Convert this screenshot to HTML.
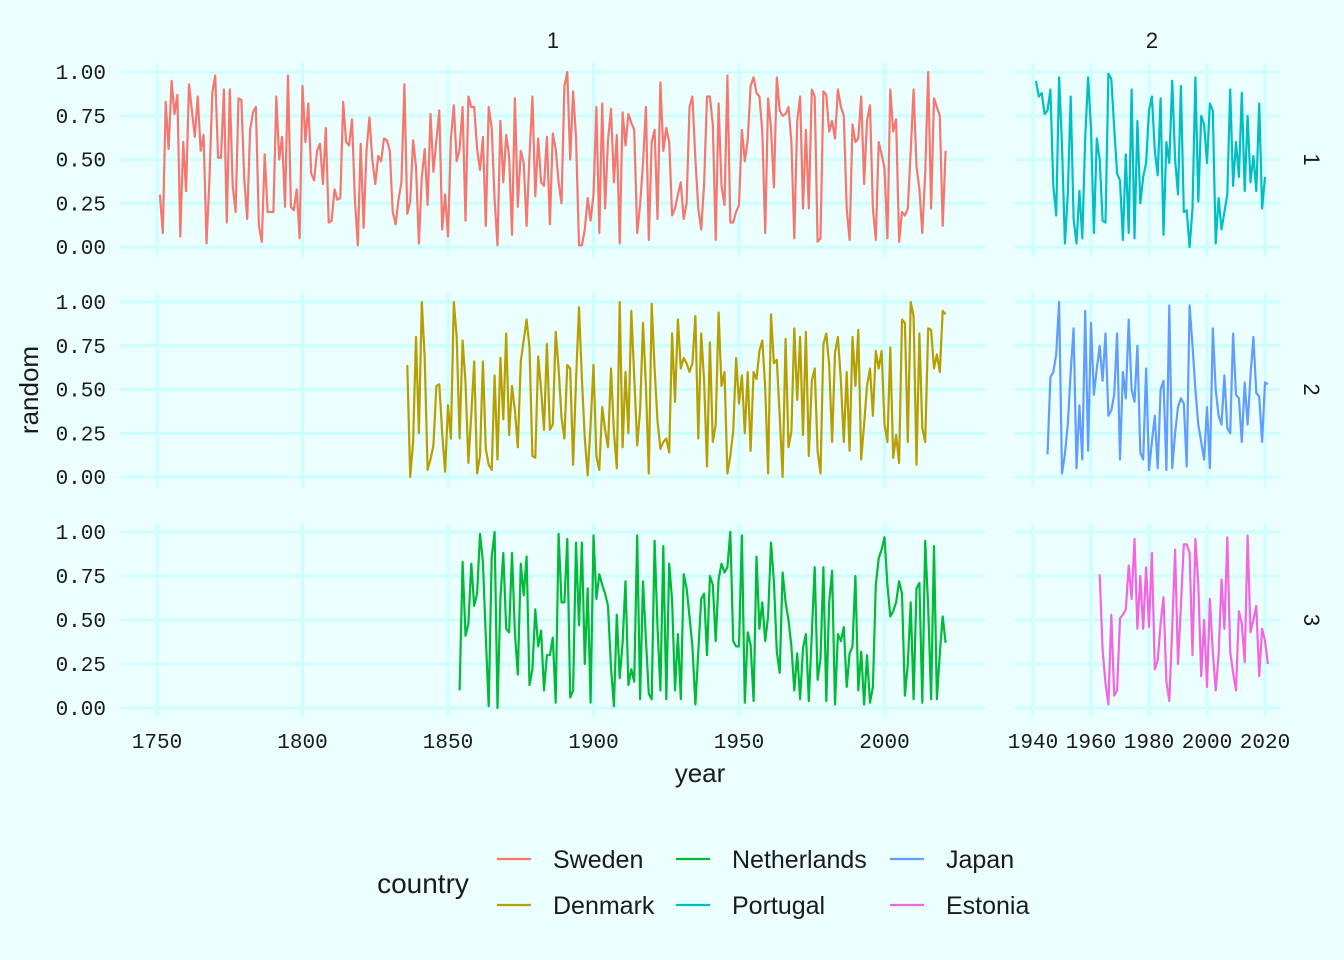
<!DOCTYPE html>
<html><head><meta charset="utf-8"><style>
body{margin:0;background:#ebffff;}
svg{display:block;font-family:"Liberation Sans",sans-serif;}
.tk{font-family:"Liberation Mono",monospace;font-size:21px;fill:#1a1a1a;}
</style></head><body>
<svg id="c" width="1344" height="960"></svg>
<script>
const sweden=[0.3,0.08,0.83,0.56,0.95,0.76,0.87,0.06,0.6,0.32,0.93,0.78,0.63,0.86,0.55,0.64,0.02,0.38,0.88,0.98,0.51,0.51,0.9,0.14,0.9,0.35,0.2,0.85,0.84,0.38,0.16,0.67,0.77,0.8,0.12,0.03,0.53,0.2,0.2,0.2,0.86,0.5,0.63,0.23,0.98,0.23,0.21,0.33,0.05,0.92,0.6,0.82,0.42,0.38,0.55,0.59,0.36,0.68,0.14,0.15,0.33,0.27,0.28,0.83,0.6,0.58,0.73,0.27,0.01,0.59,0.11,0.55,0.74,0.5,0.36,0.52,0.49,0.62,0.61,0.55,0.2,0.13,0.27,0.37,0.93,0.19,0.26,0.61,0.46,0.02,0.4,0.56,0.24,0.76,0.43,0.61,0.78,0.1,0.3,0.06,0.62,0.81,0.49,0.56,0.8,0.15,0.86,0.8,0.8,0.56,0.44,0.63,0.12,0.8,0.68,0.27,0.01,0.72,0.37,0.64,0.52,0.07,0.85,0.23,0.55,0.48,0.12,0.52,0.86,0.29,0.62,0.37,0.35,0.63,0.13,0.65,0.56,0.37,0.25,0.92,1.0,0.5,0.89,0.63,0.01,0.01,0.1,0.28,0.15,0.3,0.8,0.08,0.82,0.22,0.61,0.79,0.37,0.64,0.02,0.77,0.58,0.76,0.71,0.67,0.08,0.24,0.48,0.8,0.04,0.6,0.67,0.16,0.94,0.55,0.68,0.6,0.18,0.22,0.3,0.37,0.16,0.25,0.8,0.86,0.5,0.22,0.1,0.36,0.86,0.86,0.7,0.04,0.82,0.35,0.24,0.98,0.14,0.14,0.2,0.24,0.67,0.49,0.61,0.92,0.97,0.88,0.86,0.66,0.08,0.85,0.68,0.34,0.97,0.78,0.75,0.76,0.8,0.6,0.05,0.72,0.86,0.22,0.67,0.22,0.9,0.86,0.03,0.05,0.89,0.87,0.66,0.72,0.62,0.9,0.8,0.75,0.22,0.04,0.7,0.6,0.62,0.86,0.36,0.72,0.81,0.22,0.04,0.6,0.53,0.45,0.05,0.9,0.66,0.73,0.03,0.2,0.18,0.22,0.55,0.9,0.46,0.33,0.08,0.42,1.0,0.22,0.85,0.8,0.75,0.12,0.55,0.72,0.62,0.33,0.6,0.75];
const denmark=[0.64,0.0,0.2,0.8,0.25,1.0,0.68,0.04,0.1,0.18,0.52,0.53,0.25,0.03,0.41,0.22,1.0,0.8,0.22,0.78,0.54,0.08,0.36,0.66,0.02,0.12,0.66,0.16,0.07,0.04,0.58,0.1,0.68,0.33,0.82,0.24,0.52,0.38,0.17,0.66,0.78,0.9,0.74,0.12,0.11,0.69,0.5,0.27,0.76,0.27,0.3,0.83,0.62,0.34,0.22,0.64,0.62,0.07,0.55,0.97,0.56,0.22,0.01,0.3,0.64,0.12,0.04,0.4,0.27,0.17,0.62,0.26,0.05,1.0,0.17,0.6,0.25,0.95,0.58,0.18,0.38,0.88,0.52,0.02,0.99,0.62,0.32,0.16,0.2,0.22,0.14,0.82,0.43,0.9,0.62,0.68,0.65,0.6,0.65,0.92,0.22,0.82,0.55,0.06,0.77,0.2,0.3,0.94,0.52,0.6,0.02,0.12,0.26,0.68,0.42,0.58,0.25,0.6,0.15,0.6,0.56,0.72,0.78,0.51,0.02,0.93,0.65,0.67,0.35,0.0,0.79,0.17,0.26,0.85,0.44,0.8,0.24,0.83,0.12,0.55,0.62,0.15,0.02,0.76,0.82,0.64,0.2,0.71,0.8,0.55,0.2,0.6,0.15,0.8,0.52,0.84,0.1,0.3,0.52,0.62,0.35,0.72,0.62,0.72,0.3,0.2,0.74,0.11,0.24,0.08,0.9,0.88,0.2,1.0,0.92,0.07,0.82,0.28,0.2,0.85,0.84,0.62,0.7,0.6,0.95,0.93,0.6,0.82,0.97,0.2,0.33];
const netherlands=[0.1,0.83,0.41,0.48,0.82,0.58,0.65,0.99,0.83,0.4,0.01,0.86,1.0,0.0,0.62,0.88,0.45,0.43,0.88,0.43,0.19,0.82,0.64,0.86,0.13,0.22,0.56,0.35,0.44,0.1,0.3,0.3,0.4,0.03,0.99,0.6,0.6,0.96,0.06,0.1,0.94,0.47,0.94,0.25,0.68,0.03,0.98,0.62,0.76,0.7,0.65,0.58,0.23,0.01,0.53,0.17,0.37,0.72,0.13,0.22,0.15,0.98,0.05,0.72,0.39,0.08,0.05,0.95,0.46,0.1,0.92,0.05,0.82,0.61,0.1,0.42,0.05,0.76,0.68,0.52,0.35,0.02,0.32,0.62,0.65,0.3,0.75,0.7,0.38,0.73,0.82,0.77,0.8,1.0,0.38,0.35,0.35,0.98,0.03,0.43,0.36,0.04,0.86,0.45,0.6,0.38,0.52,0.94,0.72,0.32,0.2,0.77,0.6,0.5,0.35,0.1,0.31,0.05,0.34,0.42,0.04,0.42,0.8,0.16,0.28,0.8,0.04,0.6,0.78,0.02,0.42,0.38,0.46,0.12,0.31,0.35,0.75,0.1,0.32,0.02,0.3,0.03,0.12,0.7,0.85,0.9,0.97,0.7,0.52,0.55,0.6,0.72,0.65,0.07,0.25,0.6,0.05,0.68,0.71,0.03,0.95,0.57,0.05,0.92,0.05,0.31,0.52,0.37,0.1,0.86,0.05,0.95,0.24,0.47,0.94];
const portugal=[0.95,0.86,0.88,0.76,0.78,0.9,0.35,0.18,0.97,0.58,0.02,0.3,0.86,0.16,0.02,0.32,0.05,0.62,0.97,0.68,0.08,0.62,0.5,0.15,0.14,0.99,0.96,0.68,0.42,0.38,0.04,0.53,0.08,0.9,0.05,0.72,0.25,0.4,0.48,0.78,0.86,0.55,0.41,0.85,0.07,0.6,0.48,0.95,0.5,0.3,0.92,0.2,0.21,0.0,0.22,0.97,0.26,0.75,0.7,0.48,0.82,0.78,0.02,0.28,0.1,0.2,0.3,0.9,0.35,0.6,0.4,0.88,0.32,0.75,0.37,0.52,0.32,0.82,0.22,0.4];
const japan=[0.13,0.57,0.6,0.7,1.0,0.02,0.13,0.3,0.6,0.85,0.05,0.41,0.1,0.95,0.15,0.88,0.47,0.62,0.75,0.55,0.82,0.35,0.38,0.47,0.82,0.1,0.6,0.45,0.9,0.5,0.43,0.75,0.14,0.1,0.62,0.04,0.2,0.35,0.05,0.5,0.55,0.04,0.98,0.05,0.25,0.4,0.45,0.42,0.06,0.98,0.75,0.5,0.3,0.2,0.1,0.4,0.05,0.85,0.5,0.35,0.3,0.58,0.28,0.25,0.82,0.47,0.45,0.2,0.54,0.3,0.58,0.8,0.48,0.46,0.2,0.54,0.53];
const estonia=[0.76,0.33,0.14,0.02,0.53,0.07,0.1,0.51,0.53,0.56,0.81,0.62,0.96,0.45,0.75,0.45,0.8,0.46,0.88,0.22,0.27,0.48,0.63,0.15,0.04,0.45,0.9,0.25,0.58,0.93,0.93,0.88,0.3,0.96,0.7,0.18,0.5,0.12,0.62,0.32,0.1,0.3,0.73,0.45,0.97,0.32,0.2,0.1,0.55,0.48,0.26,0.98,0.43,0.5,0.58,0.18,0.45,0.38,0.25,0.5,0.83,0.68];
const startYears={Sweden:1751,Denmark:1836,Netherlands:1854,Portugal:1941,Japan:1945,Estonia:1963};
const endYear=2021;
const yTicks=[0,0.25,0.5,0.75,1];
const yTickLabels=["0.00","0.25","0.50","0.75","1.00"];
const xTicks1=[1750,1800,1850,1900,1950,2000];
const xTicks2=[1940,1960,1980,2000,2020];

const NS="http://www.w3.org/2000/svg",svg=document.getElementById('c');
function mk(t,a,p){const e=document.createElementNS(NS,t);for(const k in a)e.setAttribute(k,a[k]);(p||svg).appendChild(e);return e;}
const cols=[{x0:120,x1:985,y0:1750,px:157,scale:2.91},{x0:1015,x1:1280,y0:1940,px:1033,scale:2.9}];
const rows=[{t:63,b:257,y1:72,y0:247},{t:293,b:487,y1:302,y0:477},{t:523,b:717,y1:532,y0:708}];
function X(c,yr){return c.px+(yr-c.y0)*c.scale;}
function Y(r,v){return r.y0-(r.y0-r.y1)*v;}
const grid=mk('g',{});

rows.forEach((r,ri)=>cols.forEach((c,ci)=>{
  yTicks.forEach(v=>mk('line',{x1:c.x0,x2:c.x1,y1:Y(r,v),y2:Y(r,v),stroke:'#ccffff','stroke-width':3},grid));
  (ci?xTicks2:xTicks1).forEach(t=>mk('line',{x1:X(c,t),x2:X(c,t),y1:r.t,y2:r.b,stroke:'#ccffff','stroke-width':3},grid));
  const cp=mk('clipPath',{id:'cp'+ri+ci});mk('rect',{x:c.x0,y:r.t,width:c.x1-c.x0,height:r.b-r.t},cp);
}));
rows.forEach((r,ri)=>yTicks.forEach((v,i)=>{const t=mk('text',{x:106,y:Y(r,v)+7,'text-anchor':'end',class:'tk'});t.textContent=yTickLabels[i];
}));
cols.forEach((c,ci)=>(ci?xTicks2:xTicks1).forEach(v=>{const t=mk('text',{x:X(c,v),y:748,'text-anchor':'middle',class:'tk'});t.textContent=v;
}));
const series=[["Sweden",sweden,0,0,'#f8766d'],["Portugal",portugal,0,1,'#00bfc4'],["Denmark",denmark,1,0,'#b79f00'],["Japan",japan,1,1,'#619cff'],["Netherlands",netherlands,2,0,'#00ba38'],["Estonia",estonia,2,1,'#f564e3']];
series.forEach(([n,d,ri,ci,col])=>{
  const r=rows[ri],c=cols[ci],s=startYears[n];
  const pts=d.filter((v,i)=>s+i<=endYear).map((v,i)=>X(c,s+i).toFixed(1)+','+Y(r,v).toFixed(1)).join(' ');
  const p=mk('polyline',{points:pts,fill:'none',stroke:col,'stroke-width':2.2,'stroke-linejoin':'round','clip-path':'url(#cp'+ri+ci+')'});
  
});
function txt(x,y,s,str,name,extra){const t=mk('text',Object.assign({x:x,y:y,'font-size':s,fill:'#1a1a1a','text-anchor':'middle'},extra||{}));t.textContent=str;
return t;}
txt(553,48,22,'1','strip-col-1');txt(1152,48,22,'2','strip-col-2');
rows.forEach((r,i)=>txt(1296,(r.y0+r.y1)/2,22,String(i+1),'strip-row-'+(i+1),{transform:`rotate(90 1296 ${(r.y0+r.y1)/2})`,dy:-8}));
txt(700,782,26,'year','x-axis-title');
txt(38,390,26,'random','y-axis-title',{transform:'rotate(-90 38 390)'});
txt(423,893,28,'country','legend-title');
const leg=[["Sweden",'#f8766d',497,859],["Denmark",'#b79f00',497,905],["Netherlands",'#00ba38',676,859],["Portugal",'#00bfc4',676,905],["Japan",'#619cff',890,859],["Estonia",'#f564e3',890,905]];
leg.forEach(([n,col,x,y])=>{const g=mk('g',{});
mk('line',{x1:x,x2:x+34,y1:y,y2:y,stroke:col,'stroke-width':2.2},g);
const t=mk('text',{x:x+56,y:y+9,'font-size':25,fill:'#1a1a1a'},g);t.textContent=n;});
</script>
</body></html>
